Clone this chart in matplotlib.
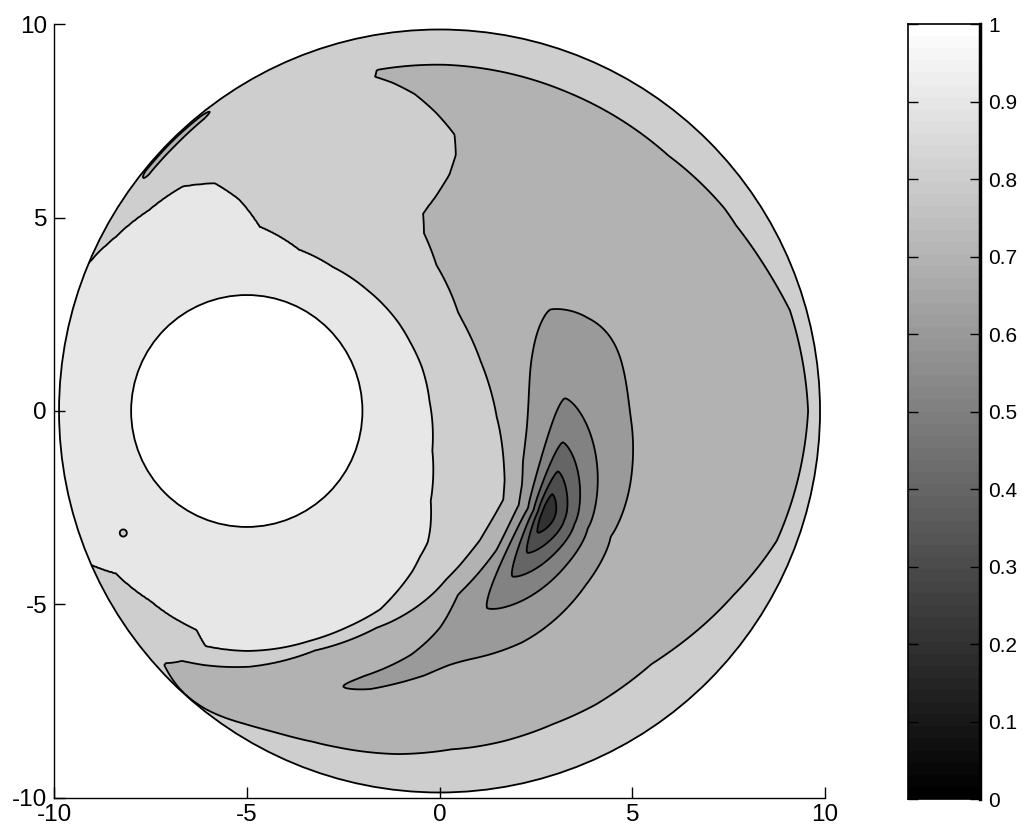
import numpy as np
import matplotlib
matplotlib.use('Agg')
import matplotlib.pyplot as plt
from matplotlib.colors import ListedColormap
from matplotlib.patches import Circle

plt.rcParams['font.family'] = ['Liberation Sans', 'DejaVu Sans']
plt.rcParams['axes.unicode_minus'] = False

# filled contour levels (band [v_i, v_i+1) gets the gray of v_i)
levels = [0.1, 0.2, 0.3, 0.4, 0.5, 0.6, 0.7, 0.8, 0.9, 1.0]
cbar_ticks = [0, 0.1, 0.2, 0.3, 0.4, 0.5, 0.6, 0.7, 0.8, 0.9, 1]
cbar_labels = ['0', '0.1', '0.2', '0.3', '0.4', '0.5', '0.6', '0.7', '0.8', '0.9', '1']
axis_ticks = [-10, -5, 0, 5, 10]

# geometry of the domain
domain_radius = 9.87
hole_center = (-5.0, 0.0)
hole_radius = 3.0

# distance from hole centre where the field drops to 0.9, by angle (deg)
ang09 = [-180, -150, -136, -129, -117, -103, -100, -90, -77, -65, -56, -44, -36,
         -26, -12, 3, 14, 30, 45, 59, 72, 86, 92, 98, 106, 116, 127, 138, 150]
r09 = [6.8, 6.2, 5.69, 5.4, 5.51, 5.82, 6.19, 6.24, 6.25, 6.26, 6.3, 6.08, 5.85,
       5.31, 4.92, 4.75, 4.7, 4.58, 4.44, 4.35, 4.39, 4.78, 5.47, 5.95, 6.04, 5.78,
       5.64, 5.6, 6.2]
# ... and where it drops to 0.8 (20 = not inside the disc)
ang08 = [-180, -112, -108, -104.6, -89.5, -74, -59, -41, -29, -15, -1.4, 12, 25,
         37.5, 45, 48.2, 48.5, 49.3, 50.7, 53, 57.6, 62, 66, 69, 71]
r08 = [20, 20, 6.95, 6.7, 6.63, 6.45, 6.56, 7.0, 7.35, 7.15, 6.64, 6.36, 6.18,
       6.3, 6.6, 6.98, 7.55, 8.33, 8.84, 9.2, 9.33, 9.42, 9.4, 9.35, 14]
far_value = 0.75
far_drop = 0.3

# dark spot east of the hole and the thin tail it leaves below
core_deg, core_r = -19.0, 8.2
core_depth = 0.52
core_len_up, core_len_down = 2.2, 2.2
core_in, core_out = 0.42, 1.0
wake_deg = [-122, -112, -105, -90, -75, -66, -56, -48, -40, -19, 0, 17, 30]
wake_r = [7.1, 7.4, 7.6, 7.5, 7.45, 7.7, 7.93, 8.0, 8.05, 8.2, 8.25, 8.3, 8.3]
tail_depth = [0, 0.03, 0.04, 0.03, 0.04, 0.05, 0.045, 0.01, 0, 0, 0, 0, 0]
tail_width = [0.5, 0.5, 0.5, 0.5, 0.35, 0.38, 0.35, 0.45, 0.5, 0.5, 0.5, 0.5, 0.5]

# lighter band along the rim, width by polar angle
ring_deg = [-180, -140, -132, -122, -111, -97, -88, -79, -70, -50, -32, -21, 0,
            16, 32, 48, 68, 89, 101, 115]
ring_width = [0.5, 0.3, 0.05, 0.47, 0.83, 1.11, 1.35, 1.38, 1.44, 1.37, 0.88,
              0.5, 0.31, 0.43, 1.0, 1.22, 1.12, 0.98, 0.94, 0.5]
ring_lift = 0.1

# thin darker streak hugging the rim at the upper left
rim_deg = [122, 129, 135, 141, 145, 150]
rim_depth = [0.0, 0.1, 0.12, 0.12, 0.0, 0.0]

# tiny island left of the hole
spot_xy = (-8.2, -3.15)
spot_depth = 0.08
spot_size = 0.12


def matlab_gray(v):
    k = min(int(v * 64), 63)
    g = k / 63
    return (g, g, g)


n = 601
x = np.linspace(-10, 10, n)
X, Y = np.meshgrid(x, x)
r = np.hypot(X, Y)
phi = np.degrees(np.arctan2(Y, X))
rho = np.hypot(X - hole_center[0], Y - hole_center[1])
th = np.degrees(np.arctan2(Y - hole_center[1], X - hole_center[0]))
edge = np.clip(domain_radius - r, 0, None)

R9 = np.interp(th, ang09, r09, period=360)
R8 = np.interp(th, ang08, r08, period=360)
base = np.where(rho < R9, 1 - 0.1 * (rho - hole_radius) / (R9 - hole_radius),
                np.where(rho < R8, 0.9 - 0.1 * (rho - R9) / (R8 - R9),
                         np.maximum(far_value, 0.8 - 0.05 * (rho - R8) / far_drop)))

w = np.interp(phi, ring_deg, ring_width, period=360) / np.log(2)
ring = far_value + ring_lift * np.exp(-edge / w)

rc = np.interp(th, wake_deg, wake_r, period=360)
dr = rho - rc
td = np.interp(th, wake_deg, tail_depth, period=360)
tw = np.interp(th, wake_deg, tail_width, period=360)
tail = td * np.exp(-(dr / tw) ** 2)

s = core_r * np.radians(th - core_deg)
ls = np.where(s > 0, core_len_up, core_len_down)
su = np.clip(s, 0, None)
sd = np.minimum(np.clip(-s, 0, None), 3.0)
lr_in = core_in + 0.14 * (su + sd) + 0.03 * np.clip(s - 2.0, 0, 4.0) ** 2
lr_out = core_out + 0.16 * (su + sd) + 0.15 * np.clip(s - 2.5, 0, 3.5) ** 2
lr = np.where(dr < 0, lr_in, lr_out)
yk = np.abs(dr / lr) ** 1.4 + np.sqrt((s / ls) ** 2 + 0.15 ** 2) - 0.15
core = core_depth * np.exp(-yk)
core = np.where(np.abs(th - core_deg) < 150, core, 0)

rim = np.interp(phi, rim_deg, rim_depth, period=360) * np.exp(-((edge - 0.1) / 0.12) ** 2)
spot = spot_depth * np.exp(-((X - spot_xy[0]) ** 2 + (Y - spot_xy[1]) ** 2) / spot_size ** 2)

F = np.maximum(base, ring) - tail - core - rim - spot

fig = plt.figure(figsize=(10.23, 8.38), dpi=100)
ax = fig.add_axes([0.0528, 0.0483, 0.7537, 0.9225])
band_colors = [matlab_gray(v) for v in levels[:-1]]
cf = ax.contourf(X, Y, F, levels=levels, colors=band_colors)
cl = ax.contour(X, Y, F, levels=levels[1:-1], colors='k', linewidths=1.3)
clip = Circle((0, 0), domain_radius, transform=ax.transData)
cf.set_clip_path(clip)
cl.set_clip_path(clip)
ax.add_patch(Circle(hole_center, hole_radius, fc='white', ec='k', lw=1.3, zorder=3))
ax.add_patch(Circle((0, 0), domain_radius, fill=False, ec='k', lw=1.3, zorder=3))

ax.set_xlim(-10, 10)
ax.set_ylim(-10, 10)
ax.set_xticks(axis_ticks)
ax.set_yticks(axis_ticks)
ax.spines['top'].set_visible(False)
ax.spines['right'].set_visible(False)
for side in ('left', 'bottom'):
    ax.spines[side].set_linewidth(1.0)
ax.tick_params(direction='in', length=8, width=1.0, labelsize=17.5, pad=5)

# colorbar
cax = fig.add_axes([0.8876, 0.0465, 0.0704, 0.9243])
cmap = ListedColormap([matlab_gray(i / 64) for i in range(64)])
cax.imshow(np.linspace(0, 1, 64).reshape(-1, 1), cmap=cmap, aspect='auto',
           origin='lower', extent=[0, 1, 0, 1], vmin=0, vmax=1)
cax.set_xticks([])
cax.set_yticks(cbar_ticks)
cax.set_yticklabels(cbar_labels)
cax.yaxis.tick_right()
cax.tick_params(axis='y', direction='in', left=True, right=True, length=7,
                width=1.0, labelsize=15, pad=6)
for side in cax.spines.values():
    side.set_linewidth(1.2)
cax.spines['right'].set_linewidth(2.5)

fig.savefig('out.png', dpi=100)
